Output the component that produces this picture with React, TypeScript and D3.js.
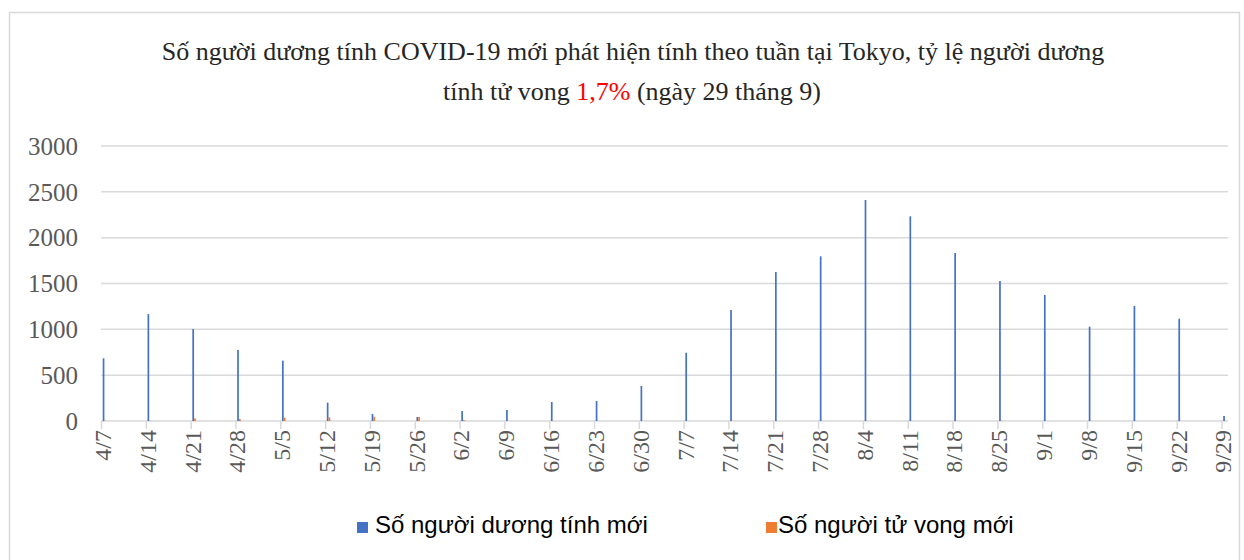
import React, { useEffect, useRef } from 'react';
import * as d3 from 'd3';

const weeks = ['4/7', '4/14', '4/21', '4/28', '5/5', '5/12', '5/19', '5/26', '6/2', '6/9', '6/16', '6/23', '6/30',
    '7/7', '7/14', '7/21', '7/28', '8/4', '8/11', '8/18', '8/25', '9/1', '9/8', '9/15', '9/22', '9/29'];
const newCases = [684, 1167, 1004, 775, 658, 200, 76, 44, 109, 120, 207, 218, 382,
    745, 1211, 1625, 1796, 2411, 2233, 1833, 1527, 1375, 1029, 1255, 1116, 55];
const newDeaths = [3, 3, 29, 22, 36, 40, 47, 44, 11, 0, 0, 0, 0,
    0, 0, 0, 0, 0, 0, 0, 3, 0, 0, 0, 0, 0];
const yTicks = [0, 500, 1000, 1500, 2000, 2500, 3000];
const seriesNames = ['Số người dương tính mới', 'Số người tử vong mới'];
const colors = ['#4472C4', '#ED7D31'];

const W = 1244;
const H = 560;

const App = () => {
    const svgRef = useRef<SVGSVGElement>(null);

    useEffect(() => {
        document.body.style.margin = '0';
        const svg = d3.select(svgRef.current);
        svg.selectAll('*').remove();

        const x = d3.scalePoint<string>().domain(weeks).range([101.5, 1222]);
        const y = d3.scaleLinear().domain([0, 3000]).range([421, 146]);
        const plotRight = 1228;
        const serif = "'Liberation Serif', 'DejaVu Serif', serif";
        const sans = "'Liberation Sans', Arial, sans-serif";

        // khung
        svg.append('rect')
            .attr('x', 9.5).attr('y', 12.5)
            .attr('width', 1230).attr('height', 560)
            .attr('fill', 'white')
            .attr('stroke', '#d9d9d9').attr('stroke-width', 1.5);

        // tiêu đề
        const title = svg.append('g').style('font-family', serif).style('fill', '#262626').style('font-size', '26px');
        title.append('text')
            .attr('x', 633).attr('y', 60)
            .attr('text-anchor', 'middle')
            .text('Số người dương tính COVID-19 mới phát hiện tính theo tuần tại Tokyo, tỷ lệ người dương');
        const t2 = title.append('text')
            .attr('x', 632).attr('y', 100)
            .attr('text-anchor', 'middle');
        t2.append('tspan').text('tính tử vong ');
        t2.append('tspan').attr('fill', '#FF0000').text('1,7%');
        t2.append('tspan').text(' (ngày 29 tháng 9)');

        // lưới
        svg.append('g')
            .selectAll('line')
            .data(yTicks)
            .enter()
            .append('line')
            .attr('x1', 101).attr('x2', plotRight)
            .attr('y1', (d) => y(d)).attr('y2', (d) => y(d))
            .attr('stroke', '#d9d9d9').attr('stroke-width', 1.5);

        svg.append('g')
            .selectAll('text')
            .data(yTicks)
            .enter()
            .append('text')
            .attr('x', 78).attr('y', (d) => y(d))
            .attr('dy', '0.35em')
            .attr('text-anchor', 'end')
            .style('font-family', serif).style('font-size', '25px').style('fill', '#595959')
            .text((d) => d);

        // vạch trục x
        svg.append('g')
            .selectAll('line')
            .data(weeks)
            .enter()
            .append('line')
            .attr('x1', (d) => x(d)!).attr('x2', (d) => x(d)!)
            .attr('y1', 421).attr('y2', 429)
            .attr('stroke', '#d9d9d9').attr('stroke-width', 1.5);

        // cột
        const series = [newCases, newDeaths];
        series.forEach((vals, si) => {
            svg.append('g')
                .selectAll('rect')
                .data(vals)
                .enter()
                .append('rect')
                .attr('x', (_, i) => x(weeks[i])! + 1.2 + si * 1.8)
                .attr('width', 1.7)
                .attr('y', (d) => y(d))
                .attr('height', (d) => y(0) - y(d))
                .attr('fill', colors[si]);
        });

        svg.append('g')
            .selectAll('text')
            .data(weeks)
            .enter()
            .append('text')
            .attr('transform', (d) => `translate(${x(d)! + 1},430) rotate(-90)`)
            .attr('text-anchor', 'end')
            .attr('dy', '0.35em')
            .style('font-family', serif).style('font-size', '24px').style('fill', '#595959')
            .text((d) => d);

        // chú thích
        const legendX = [357, 766];
        const legendTextX = [375, 778];
        seriesNames.forEach((name, i) => {
            svg.append('rect')
                .attr('x', legendX[i]).attr('y', 522)
                .attr('width', 11).attr('height', 11)
                .attr('fill', colors[i]);
            svg.append('text')
                .attr('x', legendTextX[i]).attr('y', 533)
                .style('font-family', sans).style('font-size', '24px').style('fill', '#000')
                .text(name);
        });
    }, []);

    return <svg ref={svgRef} width={W} height={H} style={{ display: 'block' }}></svg>;
};

export default App;
